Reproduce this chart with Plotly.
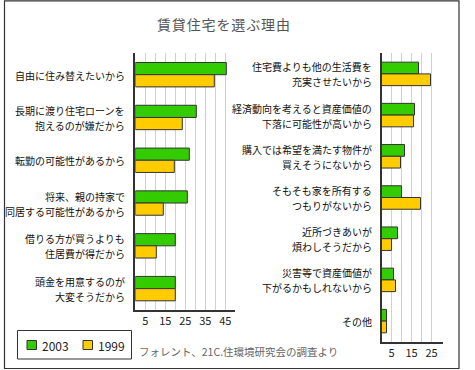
import plotly.graph_objects as go

W, H = 475, 370

left_categories = [
    "自由に住み替えたいから",
    "長期に渡り住宅ローンを<br>抱えるのが嫌だから",
    "転勤の可能性があるから",
    "将来、親の持家で<br>同居する可能性があるから",
    "借りる方が買うよりも<br>住居費が得だから",
    "頭金を用意するのが<br>大変そうだから",
]
left_2003 = [45.5, 30.5, 27, 26, 20, 20]
left_1999 = [39.5, 23.5, 19.5, 14, 10.5, 20]

right_categories = [
    "住宅費よりも他の生活費を<br>充実させたいから",
    "経済動向を考えると資産価値の<br>下落に可能性が高いから",
    "購入では希望を満たす物件が<br>買えそうにないから",
    "そもそも家を所有する<br>つもりがないから",
    "近所づきあいが<br>煩わしそうだから",
    "災害等で資産価値が<br>下がるかもしれないから",
    "その他",
]
right_2003 = [18.5, 16.5, 11.5, 10, 8, 6, 2.5]
right_1999 = [24.5, 16, 9.5, 19.5, 5, 7, 2.5]

left_tickvals = [5, 10, 15, 20, 25, 30, 35, 40, 45]
left_ticktext = ["5", "", "15", "", "25", "", "35", "", "45"]
right_tickvals = [5, 10, 15, 20, 25]
right_ticktext = ["5", "", "15", "", "25"]

series_names = ["2003", "1999"]
title_text = "賃貸住宅を選ぶ理由"
source_text = "フォレント、21C.住環境研究会の調査より"

GREEN = "#33CC00"
YELLOW = "#FFCC00"
EDGE = "#333333"
GRID = "#C4DCBA"
FONT = "Noto Sans CJK JP"


def px(x):
    return x / W


def py(y):
    return 1 - y / H


fig = go.Figure()
fig.add_trace(go.Bar(y=left_categories, x=left_2003, orientation="h", name=series_names[0],
                     marker=dict(color=GREEN, line=dict(color=EDGE, width=1)),
                     xaxis="x", yaxis="y", showlegend=False))
fig.add_trace(go.Bar(y=left_categories, x=left_1999, orientation="h", name=series_names[1],
                     marker=dict(color=YELLOW, line=dict(color=EDGE, width=1)),
                     xaxis="x", yaxis="y", showlegend=False))
fig.add_trace(go.Bar(y=right_categories, x=right_2003, orientation="h", name=series_names[0],
                     marker=dict(color=GREEN, line=dict(color=EDGE, width=1)),
                     xaxis="x2", yaxis="y2", showlegend=False))
fig.add_trace(go.Bar(y=right_categories, x=right_1999, orientation="h", name=series_names[1],
                     marker=dict(color=YELLOW, line=dict(color=EDGE, width=1)),
                     xaxis="x2", yaxis="y2", showlegend=False))

xcommon = dict(showgrid=True, gridcolor=GRID, gridwidth=1, zeroline=False,
               showline=True, linecolor=EDGE, linewidth=1.5, ticks="", ticklen=0,
               tickfont=dict(family=FONT, size=11, color="#222222"),
               ticklabelstandoff=0, automargin=False, fixedrange=True)
ycommon = dict(showgrid=False, zeroline=False, showline=True, linecolor=EDGE,
               linewidth=1.5, ticks="", type="category", showticklabels=False,
               automargin=False, fixedrange=True)

fig.update_layout(
    width=W, height=H,
    margin=dict(l=0, r=0, t=0, b=0, autoexpand=False),
    paper_bgcolor="white", plot_bgcolor="white",
    barmode="group", bargap=0.43, bargroupgap=0,
    xaxis=dict(domain=[px(135.3), px(235)], range=[0, 49.85], anchor="y",
               tickmode="array", tickvals=left_tickvals, ticktext=left_ticktext, **xcommon),
    yaxis=dict(domain=[py(310), py(53.3)], range=[5.5, -0.5], anchor="x", **ycommon),
    xaxis2=dict(domain=[px(381.5), px(443.3)], range=[0, 30.9], anchor="y2",
                tickmode="array", tickvals=right_tickvals, ticktext=right_ticktext, **xcommon),
    yaxis2=dict(domain=[py(341.7), py(53.3)], range=[6.5, -0.5], anchor="x2", **ycommon),
    font=dict(family=FONT),
)

shapes = [
    dict(type="rect", xref="paper", yref="paper", x0=px(4.5), x1=px(459), y0=py(368.5), y1=py(0.8),
         line=dict(color=EDGE, width=1.2), fillcolor="rgba(0,0,0,0)", layer="above"),
    dict(type="rect", xref="paper", yref="paper", x0=px(17.5), x1=px(131.5), y0=py(359), y1=py(330.5),
         line=dict(color=EDGE, width=1), fillcolor="white"),
    dict(type="rect", xref="paper", yref="paper", x0=px(27), x1=px(36.5), y0=py(349.5), y1=py(340.5),
         line=dict(color=EDGE, width=1), fillcolor=GREEN),
    dict(type="rect", xref="paper", yref="paper", x0=px(83), x1=px(92.5), y0=py(349.5), y1=py(340.5),
         line=dict(color=EDGE, width=1), fillcolor=YELLOW),
]
fig.update_layout(shapes=shapes)

annotations = [
    dict(text="\u200a".join(title_text), xref="paper", yref="paper", x=px(223.5), y=py(24.5),
         xanchor="center", yanchor="middle", showarrow=False,
         font=dict(family=FONT, size=14, color="#555555")),
    dict(text=series_names[0], xref="paper", yref="paper", x=px(40), y=py(345),
         xanchor="left", yanchor="middle", showarrow=False,
         font=dict(family=FONT, size=12, color="#222222")),
    dict(text=series_names[1], xref="paper", yref="paper", x=px(96), y=py(345),
         xanchor="left", yanchor="middle", showarrow=False,
         font=dict(family=FONT, size=12, color="#222222")),
    dict(text=source_text, xref="paper", yref="paper", x=px(137), y=py(351.5),
         xanchor="left", yanchor="middle", showarrow=False,
         font=dict(family=FONT, size=10.5, color="#666666")),
]

# category labels, one annotation per text line, anchored to the category axis
for cats, xr, yr in [(left_categories, "x domain", "y"), (right_categories, "x2 domain", "y2")]:
    for cat in cats:
        lines = cat.split("<br>")
        n = len(lines)
        for i, line in enumerate(lines):
            shift = -((i - (n - 1) / 2) * 15) - 0.5
            annotations.append(dict(
                text=line, xref=xr, yref=yr, x=0, y=cat, xanchor="right", yanchor="middle",
                xshift=-8, yshift=shift, showarrow=False,
                font=dict(family=FONT, size=10, color="#111111")))

fig.update_layout(annotations=annotations)

fig.write_html("out.html", config={"displayModeBar": False},
               post_script="document.body.style.margin='0';document.body.style.padding='0';")
